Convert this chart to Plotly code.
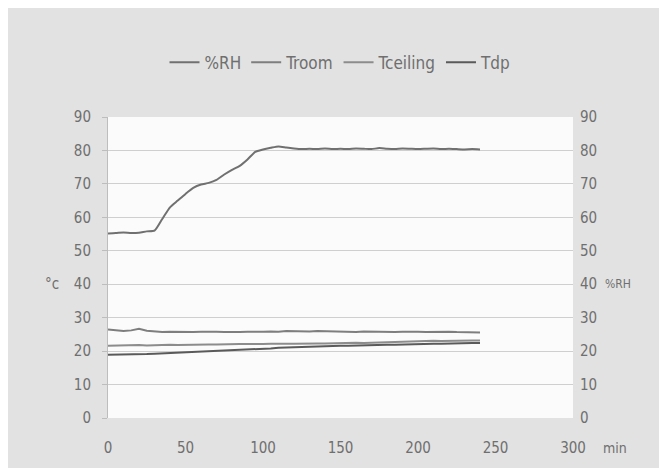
import plotly.graph_objects as go

minutes = list(range(0, 245, 5))

rh = [55.2, 55.3, 55.5, 55.3, 55.4, 55.8, 56.0, 59.5, 63.0, 65.0,
      67.0, 68.8, 69.8, 70.3, 71.2, 72.8, 74.2, 75.4, 77.3, 79.6,
      80.3, 80.8, 81.2, 80.9, 80.6, 80.4, 80.5, 80.4, 80.6, 80.4,
      80.5, 80.4, 80.6, 80.5, 80.4, 80.7, 80.5, 80.4, 80.6, 80.5,
      80.4, 80.5, 80.6, 80.4, 80.5, 80.4, 80.3, 80.4, 80.3]

troom = [26.5, 26.3, 26.0, 26.2, 26.7, 26.1, 25.8, 25.7, 25.8, 25.7,
         25.8, 25.7, 25.8, 25.9, 25.8, 25.7, 25.6, 25.7, 25.8, 25.7,
         25.8, 25.9, 25.8, 26.0, 25.9, 25.8, 25.9, 26.0, 25.9, 25.8,
         25.9, 25.8, 25.7, 25.9, 25.8, 25.9, 25.8, 25.7, 25.8, 25.9,
         25.8, 25.7, 25.8, 25.7, 25.8, 25.7, 25.6, 25.7, 25.6]

tceiling = [21.6, 21.7, 21.6, 21.7, 21.8, 21.7, 21.8, 21.8, 21.9, 21.8,
            21.9, 22.0, 21.9, 22.0, 22.0, 22.1, 22.0, 22.1, 22.1, 22.0,
            22.1, 22.2, 22.1, 22.2, 22.2, 22.3, 22.2, 22.3, 22.3, 22.4,
            22.3, 22.4, 22.5, 22.4, 22.5, 22.6, 22.7, 22.8, 22.9, 23.0,
            22.9, 23.0, 23.1, 23.0, 23.1, 23.2, 23.1, 23.2, 23.2]

tdp = [18.9, 18.9, 19.0, 19.0, 19.1, 19.1, 19.2, 19.3, 19.4, 19.5,
       19.6, 19.7, 19.8, 19.9, 19.9, 20.0, 20.1, 20.2, 20.3, 20.5,
       20.7, 20.8, 21.0, 21.1, 21.2, 21.3, 21.4, 21.4, 21.5, 21.5,
       21.6, 21.6, 21.7, 21.7, 21.8, 21.8, 21.9, 21.9, 22.0, 22.0,
       22.1, 22.1, 22.2, 22.2, 22.3, 22.3, 22.3, 22.4, 22.4]

x_ticks = [0, 50, 100, 150, 200, 250, 300]
y_ticks = [0, 10, 20, 30, 40, 50, 60, 70, 80, 90]

FONT = "DejaVu Sans Condensed, Liberation Sans Narrow, Arial Narrow, sans-serif"
TXT = "#6f6f6f"

fig = go.Figure()
fig.add_trace(go.Scatter(x=minutes, y=rh, name="%RH", mode="lines",
                         line=dict(color="#707070", width=2, shape="spline",
                                   smoothing=0.6), yaxis="y2"))
fig.add_trace(go.Scatter(x=minutes, y=troom, name="Troom", mode="lines",
                         line=dict(color="#7e7e7e", width=2)))
fig.add_trace(go.Scatter(x=minutes, y=tceiling, name="Tceiling", mode="lines",
                         line=dict(color="#8c8c8c", width=2)))
fig.add_trace(go.Scatter(x=minutes, y=tdp, name="Tdp", mode="lines",
                         line=dict(color="#5a5a5a", width=2)))

fig.update_layout(
    width=659, height=460,
    margin=dict(l=100, r=94, t=109, b=50, autoexpand=False),
    paper_bgcolor="#e2e2e2",
    plot_bgcolor="#fbfbfb",
    font=dict(family=FONT, size=15, color=TXT),
    showlegend=True,
    legend=dict(orientation="h", x=0.5, xanchor="center", xref="paper",
                y=1.18, yanchor="middle", bgcolor="rgba(0,0,0,0)",
                font=dict(family=FONT, size=17, color=TXT),
                itemwidth=30),
    xaxis=dict(range=[0, 300], tickvals=x_ticks, showgrid=False,
               zeroline=False, showline=False, ticks="", automargin=False,
               ticklabelstandoff=19, tickfont=dict(size=15, color=TXT)),
    yaxis=dict(range=[0, 90], tickvals=y_ticks, showgrid=True,
               gridcolor="#cfcfcf", gridwidth=1, zeroline=False,
               showline=True, linecolor="#bdbdbd", ticks="outside",
               ticklen=5, tickcolor="#bdbdbd", ticklabelstandoff=8,
               automargin=False, tickfont=dict(size=15, color=TXT)),
    yaxis2=dict(range=[0, 90], tickvals=y_ticks, overlaying="y", side="right",
                showgrid=False, zeroline=False, showline=False, ticks="",
                automargin=False,
                ticklabelstandoff=6, tickfont=dict(size=15, color=TXT)),
    annotations=[
        dict(text="°c", xref="paper", yref="y", x=-0.14, y=40,
             showarrow=False, font=dict(size=15, color=TXT)),
        dict(text="%RH", xref="paper", yref="y", x=1.128, y=40,
             showarrow=False, font=dict(size=12, color=TXT)),
        dict(text="min", xref="paper", yref="paper", x=1.12, y=-0.133,
             showarrow=False, font=dict(size=14, color=TXT)),
    ],
)

fig.write_html("out.html")
